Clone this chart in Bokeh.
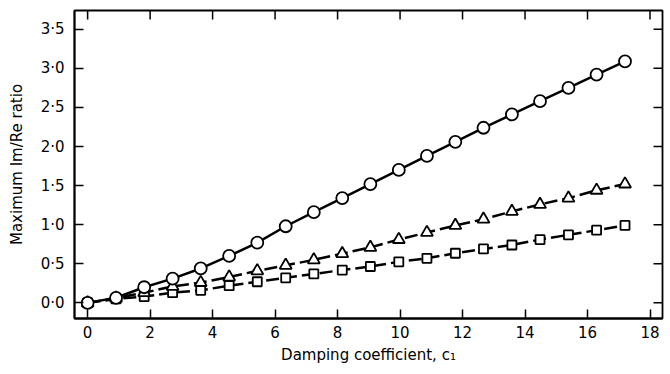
import math
from bokeh.plotting import figure
from bokeh.models import FixedTicker, Range1d, ColumnDataSource
from bokeh.embed import file_html
from bokeh.resources import INLINE

# ---- data ----
damping = [0, 0.91, 1.81, 2.72, 3.62, 4.53, 5.43, 6.34, 7.24, 8.15,
           9.05, 9.96, 10.86, 11.77, 12.67, 13.58, 14.48, 15.39, 16.29, 17.2]
ratio_circle = [0, 0.065, 0.20, 0.31, 0.44, 0.60, 0.77, 0.98, 1.16, 1.34,
                1.52, 1.70, 1.88, 2.06, 2.24, 2.41, 2.58, 2.75, 2.92, 3.09]
ratio_triangle = [0, 0.06, 0.13, 0.21, 0.26, 0.33, 0.41, 0.48, 0.55, 0.63,
                  0.71, 0.81, 0.90, 0.99, 1.07, 1.17, 1.26, 1.34, 1.44, 1.52]
ratio_square = [0, 0.05, 0.08, 0.13, 0.16, 0.22, 0.27, 0.32, 0.37, 0.42,
                0.465, 0.525, 0.57, 0.635, 0.69, 0.74, 0.81, 0.87, 0.93, 0.99]

x_ticks = [0, 2, 4, 6, 8, 10, 12, 14, 16, 18]
y_ticks = [0.0, 0.5, 1.0, 1.5, 2.0, 2.5, 3.0, 3.5]
y_tick_labels = ["0·0", "0·5", "1·0", "1·5", "2·0", "2·5", "3·0", "3·5"]

x_title = "Damping coefficient, c₁"
y_title = "Maximum Im/Re ratio"

X_START, X_END = -0.42, 18.4
Y_START, Y_END = -0.2, 3.74

FONT = "DejaVu Sans"

src = ColumnDataSource(dict(x=damping, c=ratio_circle, t=ratio_triangle, s=ratio_square))

p = figure(width=670, height=374, output_backend="svg", toolbar_location=None,
           x_range=Range1d(X_START, X_END), y_range=Range1d(Y_START, Y_END),
           min_border_left=74, min_border_right=8, min_border_top=10, min_border_bottom=56,
           x_axis_label=x_title, y_axis_label=y_title)

p.background_fill_color = "white"
p.border_fill_color = "white"
p.grid.visible = False
p.outline_line_color = "black"
p.outline_line_width = 1.8
p.outline_line_alpha = 1.0

# inward ticks on the top and right edges (no labels there)
p.scatter(x=x_ticks, y=[Y_END] * len(x_ticks), marker="dash", angle=math.pi / 2,
          size=18, line_color="black", line_width=1.5)
p.scatter(x=[X_END] * len(y_ticks), y=y_ticks, marker="dash", angle=0,
          size=18, line_color="black", line_width=1.5)

# series
p.line("x", "s", source=src, line_color="black", line_width=2.5, line_dash="13 5")
p.line("x", "t", source=src, line_color="black", line_width=2.5, line_dash="13 5")
p.line("x", "c", source=src, line_color="black", line_width=2.5)
p.scatter("x", "s", source=src, marker="square", size=9, fill_color="white",
          line_color="black", line_width=1.8)
p.scatter("x", "t", source=src, marker="triangle", size=12, fill_color="white",
          line_color="black", line_width=1.8)
p.scatter("x", "c", source=src, marker="circle", size=12, fill_color="white",
          line_color="black", line_width=1.8)

def style_axis(ax, ticks):
    ax.ticker = FixedTicker(ticks=ticks)
    ax.minor_tick_line_color = None
    ax.major_tick_in = 9
    ax.major_tick_out = 0
    ax.major_tick_line_color = "black"
    ax.major_tick_line_width = 1.5
    ax.axis_line_color = "black"
    ax.axis_line_width = 1.8
    ax.major_label_text_font = FONT
    ax.major_label_text_color = "black"
    ax.major_label_text_font_size = "15px"
    ax.axis_label_text_font = FONT
    ax.axis_label_text_font_size = "15px"
    ax.axis_label_text_font_style = "normal"
    ax.axis_label_text_color = "black"

xa = p.xaxis[0]
ya = p.yaxis[0]
style_axis(xa, x_ticks)
style_axis(ya, y_ticks)
ya.major_label_overrides = {t: l for t, l in zip(y_ticks, y_tick_labels)}
xa.major_label_standoff = 7
xa.axis_label_standoff = 5
ya.major_label_standoff = 10
ya.axis_label_standoff = 12

open("out.html", "w").write(file_html(p, INLINE))
